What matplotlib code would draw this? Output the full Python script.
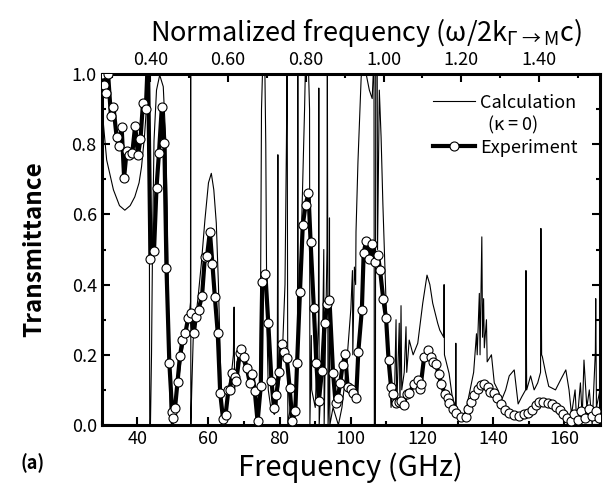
import matplotlib
matplotlib.use('Agg')
import matplotlib.pyplot as plt
from matplotlib.ticker import MultipleLocator, FormatStrFormatter
from matplotlib.lines import Line2D

plt.rcParams['font.family'] = ['Noto Sans CJK JP', 'DejaVu Sans']
plt.rcParams['mathtext.fontset'] = 'custom'
plt.rcParams['mathtext.rm'] = 'Noto Sans CJK JP'
plt.rcParams['mathtext.it'] = 'Noto Sans CJK JP'
plt.rcParams['mathtext.bf'] = 'Noto Sans CJK JP:bold'

# Calculation (kappa = 0): frequency (GHz), transmittance
calc_freq = [30.0, 30.3, 31.4, 33.3, 35.0, 36.5, 38.0, 39.3, 40.5, 41.2,
             42.0, 42.6, 43.1, 43.3, 43.5, 43.7, 44.0, 44.3, 44.7, 45.4,
             46.3, 47.3, 48.0, 48.4, 48.8, 49.2, 49.6, 50.5, 51.5, 52.5,
             53.5, 54.5, 54.95, 55.0, 55.05, 55.3, 55.7, 57.1, 58.0, 59.0,
             60.0, 60.8, 61.5, 62.2, 62.8, 63.3, 63.8, 64.5, 65.5, 66.5,
             67.0, 67.2, 67.35, 68.0, 69.0, 70.0, 71.0, 72.0, 73.0, 73.8,
             74.3, 74.6, 74.9, 75.3, 75.8, 76.1, 76.4, 76.8, 77.5, 78.5,
             79.3, 79.5, 79.6, 80.3, 80.9, 81.5, 81.9, 82.1, 82.3, 83.0,
             84.0, 85.0, 85.1, 85.2, 86.0, 87.0, 87.3, 88.0, 88.4, 88.5,
             88.9, 89.0, 90.0, 90.9, 91.0, 91.1, 92.0, 92.4, 92.5, 93.3,
             93.4, 93.6, 93.9, 94.0, 94.1, 95.0, 96.5, 97.5, 98.7, 100.0,
             100.45, 100.55, 101.0, 101.35, 101.45, 102.0, 102.9, 103.5, 104.3, 105.2,
             106.0, 106.5, 106.6, 106.9, 107.0, 107.4, 107.5, 108.0, 108.5, 109.0,
             109.9, 110.8, 111.3, 111.8, 112.2, 112.7, 112.9, 113.6, 113.8, 114.1,
             114.3, 115.0, 115.5, 115.7, 116.4, 117.5, 118.8, 120.2, 121.4, 122.2,
             123.0, 124.4, 125.0, 126.1, 126.2, 126.3, 127.6, 128.5, 129.4, 129.5,
             129.6, 130.5, 131.5, 132.5, 133.5, 134.5, 135.3, 135.5, 136.1, 136.3,
             136.8, 137.0, 137.3, 137.5, 138.1, 138.3, 139.5, 140.3, 141.3, 142.3,
             143.5, 144.5, 145.9, 147.0, 148.0, 149.1, 149.2, 149.4, 150.5, 151.5,
             152.5, 153.3, 153.4, 153.6, 153.8, 154.7, 155.6, 157.5, 159.0, 160.4,
             161.3, 162.0, 163.0, 163.5, 164.5, 165.0, 165.5, 166.3, 167.0, 167.8,
             168.7, 168.8, 169.0, 170.0]
calc_trans = [1.0, 0.878, 0.755, 0.67, 0.625, 0.612, 0.625, 0.65, 0.69, 0.736,
              0.82, 0.907, 1.0, 1.05, 0.0, 0.0, 0.2, 0.527, 0.81, 0.954,
              0.997, 0.964, 0.81, 0.62, 0.3, 0.05, 0.0, 0.03, 0.12, 0.2,
              0.26, 0.3, 0.35, 1.05, 0.0, 0.1, 0.242, 0.366, 0.46, 0.584,
              0.69, 0.717, 0.67, 0.575, 0.4, 0.2, 0.03, 0.02, 0.1, 0.15,
              0.2, 0.336, 0.1, 0.18, 0.2, 0.17, 0.14, 0.12, 0.08, 0.02,
              0.0, 0.3, 0.9, 1.05, 1.05, 0.8, 0.3, 0.1, 0.05, 0.03,
              0.05, 0.77, 0.1, 0.15, 0.24, 0.4, 0.8, 1.05, 0.0, 0.05,
              0.05, 0.15, 1.05, 0.2, 0.5, 0.9, 1.05, 1.05, 0.9, 0.0,
              0.255, 0.1, 0.05, 0.3, 0.96, 0.0, 0.2, 0.5, 0.0, 0.5,
              1.05, 0.0, 0.1, 0.59, 0.0, 0.05, 0.0, 0.05, 0.157, 0.33,
              0.44, 0.2, 0.45, 0.40, 0.55, 0.75, 0.99, 1.05, 1.0, 0.954,
              0.93, 1.05, 0.0, 0.0, 1.05, 1.05, 0.5, 0.954, 0.82, 0.63,
              0.347, 0.157, 0.05, 0.1, 0.05, 0.30, 0.05, 0.29, 0.05, 0.34,
              0.1, 0.15, 0.28, 0.15, 0.242, 0.2, 0.233, 0.347, 0.427, 0.4,
              0.347, 0.29, 0.27, 0.25, 0.40, 0.2, 0.147, 0.08, 0.05, 0.233,
              0.03, 0.02, 0.02, 0.05, 0.1, 0.15, 0.26, 0.2, 0.375, 0.2,
              0.536, 0.25, 0.36, 0.22, 0.30, 0.18, 0.2, 0.12, 0.1, 0.07,
              0.1, 0.14, 0.157, 0.06, 0.08, 0.1, 0.44, 0.1, 0.14, 0.1,
              0.12, 0.15, 0.56, 0.2, 0.195, 0.15, 0.11, 0.10, 0.13, 0.157,
              0.1, 0.03, 0.1, 0.0, 0.12, 0.02, 0.185, 0.05, 0.1, 0.0,
              0.21, 0.36, 0.05, 0.1]

# Experiment: frequency (GHz), transmittance
exp_freq = [30.2, 30.7, 31.2, 31.8, 32.6, 33.3, 34.2, 34.8, 35.6, 36.3, 37.0, 37.7, 38.6, 39.4, 40.2, 40.9,
            41.6, 42.4, 43.0, 43.7, 44.7, 45.4, 46.1, 46.9, 47.6, 48.2, 49.0, 49.8, 50.1, 50.6, 51.3, 52.0,
            52.7, 53.5, 54.3, 55.0, 55.9, 56.4, 57.2, 58.2, 59.0, 59.6, 60.4, 61.1, 61.8, 62.6, 63.3, 64.1,
            64.8, 65.6, 66.0, 66.7, 67.4, 67.8, 68.8, 69.2, 70.0, 70.8, 71.6, 72.3, 73.0, 73.8, 74.7, 75.1,
            76.0, 76.8, 77.7, 78.4, 79.1, 79.8, 80.6, 81.2, 82.0, 82.8, 83.6, 84.4, 84.9, 85.7, 86.5, 87.3,
            88.1, 88.7, 89.6, 90.3, 91.0, 91.9, 92.6, 93.4, 94.0, 95.0, 95.7, 96.3, 97.0, 97.7, 98.4, 99.1,
            100.1, 100.7, 101.5, 102.1, 103.1, 103.6, 104.3, 105.2, 106.0, 106.8, 107.6, 108.2, 109.1, 109.9,
            110.6, 111.3, 111.9, 112.7, 113.4, 114.1, 114.8, 115.7, 116.4, 117.8, 118.8, 119.4, 119.7, 120.6,
            121.8, 122.5, 123.0, 123.9, 124.7, 125.3, 126.5, 127.2, 127.6, 128.6, 129.5, 130.9, 132.3, 133.0,
            133.7, 134.7, 135.6, 136.5, 137.5, 138.4, 139.1, 140.3, 141.2, 142.1, 143.3, 144.5, 145.9, 147.3,
            148.7, 149.9, 151.0, 152.0, 152.9, 154.1, 155.3, 156.4, 157.5, 158.7, 159.7, 160.8, 161.8, 162.8,
            163.8, 164.8, 165.8, 166.8, 167.8, 168.8, 169.8]
exp_trans = [1.0, 0.97, 0.945, 1.0, 0.88, 0.907, 0.82, 0.795, 0.85, 0.705, 0.78, 0.77, 0.775, 0.853, 0.77, 0.814,
             0.917, 0.90, 1.05, 0.472, 0.496, 0.676, 0.776, 0.907, 0.804, 0.448, 0.178, 0.038, 0.019, 0.048, 0.122, 0.197,
             0.242, 0.261, 0.306, 0.318, 0.261, 0.307, 0.328, 0.368, 0.48, 0.481, 0.551, 0.46, 0.364, 0.263, 0.09, 0.017,
             0.028, 0.10, 0.10, 0.147, 0.138, 0.125, 0.204, 0.216, 0.193, 0.161, 0.12, 0.145, 0.097, 0.01, 0.111, 0.408,
             0.429, 0.291, 0.126, 0.049, 0.085, 0.152, 0.232, 0.207, 0.192, 0.106, 0.01, 0.041, 0.177, 0.378, 0.57, 0.628,
             0.66, 0.52, 0.334, 0.178, 0.068, 0.155, 0.29, 0.346, 0.356, 0.149, 0.064, 0.076, 0.119, 0.171, 0.201, 0.109,
             0.104, 0.09, 0.078, 0.209, 0.329, 0.489, 0.525, 0.472, 0.517, 0.465, 0.484, 0.443, 0.359, 0.304,
             0.185, 0.107, 0.088, 0.064, 0.066, 0.069, 0.057, 0.088, 0.09, 0.118, 0.128, 0.103, 0.118, 0.195,
             0.214, 0.195, 0.18, 0.175, 0.145, 0.118, 0.088, 0.076, 0.062, 0.047, 0.035, 0.024, 0.024, 0.045,
             0.066, 0.085, 0.104, 0.114, 0.117, 0.109, 0.095, 0.092, 0.076, 0.06, 0.043, 0.035, 0.028, 0.026,
             0.031, 0.033, 0.043, 0.057, 0.066, 0.066, 0.062, 0.059, 0.052, 0.043, 0.031, 0.019, 0.01, 0.03,
             0.015, 0.04, 0.02, 0.045, 0.025, 0.04, 0.02]

x_ticks = [40, 60, 80, 100, 120, 140, 160]
y_ticks = [0.0, 0.2, 0.4, 0.6, 0.8, 1.0]
top_ticks = [0.40, 0.60, 0.80, 1.00, 1.20, 1.40]
NORM_GHZ = 109.2  # GHz corresponding to normalized frequency 1.0

fig = plt.figure(figsize=(6.1, 4.95), dpi=100)
ax = fig.add_axes([0.1667, 0.1414, 0.8169, 0.7091])

ax.plot(calc_freq, calc_trans, color='black', lw=0.8, zorder=2)
ax.plot(exp_freq, exp_trans, color='black', lw=3.0, marker='o', ms=6.5,
        mfc='white', mec='black', mew=0.8, zorder=3)

ax.set_xlim(30, 170)
ax.set_ylim(0, 1)
ax.set_xticks(x_ticks)
ax.set_yticks(y_ticks)
ax.xaxis.set_minor_locator(MultipleLocator(10))
ax.yaxis.set_minor_locator(MultipleLocator(0.1))
ax.yaxis.set_major_formatter(FormatStrFormatter('%.1f'))
ax.tick_params(which='both', direction='in', top=False, right=True, width=1.5, labelsize=13)
ax.tick_params(which='major', length=6)
ax.tick_params(which='minor', length=3)
for s in ax.spines.values():
    s.set_linewidth(2.2)

sec = ax.secondary_xaxis('top', functions=(lambda f: f / NORM_GHZ, lambda n: n * NORM_GHZ))
sec.set_xticks(top_ticks)
sec.xaxis.set_minor_locator(MultipleLocator(0.1))
sec.xaxis.set_major_formatter(FormatStrFormatter('%.2f'))
sec.tick_params(which='both', direction='in', width=1.5, labelsize=13)
sec.tick_params(which='major', length=6)
sec.tick_params(which='minor', length=3)
sec.set_xlabel(r'Normalized frequency ($\omega$/2k$_{\Gamma\rightarrow\mathrm{M}}$c)', fontsize=19.5,
               labelpad=7, x=0.53)

ax.set_xlabel('Frequency (GHz)', fontsize=21, labelpad=3)
ax.set_ylabel('Transmittance', fontsize=17.5, fontweight='bold', labelpad=18)
fig.text(0.033, 0.065, '(a)', fontsize=13, fontweight='bold', ha='left', va='center')

handles = [Line2D([], [], color='black', lw=0.8),
           Line2D([], [], color='none'),
           Line2D([], [], color='black', lw=3.0, marker='o', ms=6.5, mfc='white', mec='black', mew=0.8)]
labels = ['Calculation', '  (\u03ba = 0)', 'Experiment']
ax.legend(handles, labels, loc='upper right', bbox_to_anchor=(0.97, 0.965), frameon=False,
          fontsize=13, handlelength=2.3, handletextpad=0.3, labelspacing=0.25, borderaxespad=0)

fig.savefig('out.png', dpi=100)
